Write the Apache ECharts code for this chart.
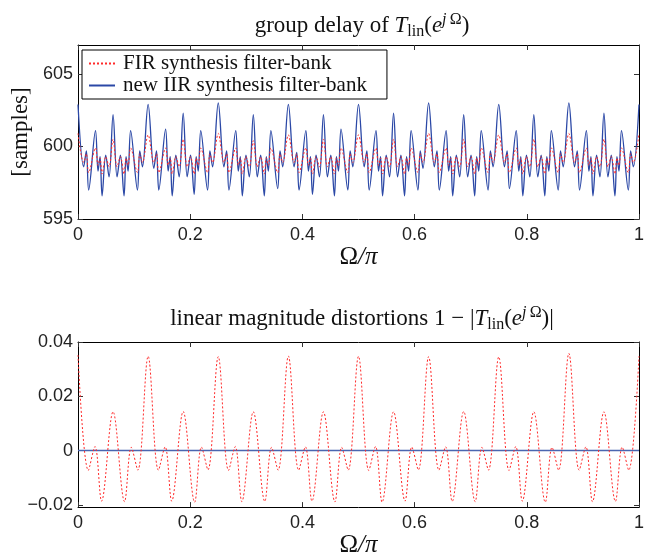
<!DOCTYPE html>
<html><head><meta charset="utf-8">
<script src="https://cdn.jsdelivr.net/npm/echarts@6/dist/echarts.min.js"></script>
<style>html,body{margin:0;padding:0;background:#fff}#c{width:654px;height:559px}</style>
</head><body><div id="c"></div>
<script>
// ---------- data ----------
const xTicks = [0, 0.2, 0.4, 0.6, 0.8, 1];
const gdTicks = [595, 600, 605];
const magTicks = [-0.02, 0, 0.02, 0.04];

// x positions (Omega/pi) of the group-delay extrema
const gdX = [
  0, .0101, .0149, .0190, .0312, .0357, .0393, .0429, .0494, .0554, .0625, .0696, .0756, .0821, .0857, .0893, .0938, .1060, .1101, .1149,
  .125, .1351, .1399, .1440, .1562, .1607, .1643, .1679, .1744, .1804, .1875, .1946, .2006, .2071, .2107, .2143, .2188, .2310, .2351, .2399,
  .25, .2601, .2649, .2690, .2812, .2857, .2893, .2929, .2994, .3054, .3125, .3196, .3256, .3321, .3357, .3393, .3438, .3560, .3601, .3649,
  .375, .3851, .3899, .3940, .4062, .4107, .4143, .4179, .4244, .4304, .4375, .4446, .4506, .4571, .4607, .4643, .4688, .4810, .4851, .4899,
  .5, .5101, .5149, .5190, .5312, .5357, .5393, .5429, .5494, .5554, .5625, .5696, .5756, .5821, .5857, .5893, .5938, .6060, .6101, .6149,
  .625, .6351, .6399, .6440, .6562, .6607, .6643, .6679, .6744, .6804, .6875, .6946, .7006, .7071, .7107, .7143, .7188, .7310, .7351, .7399,
  .75, .7601, .7649, .7690, .7812, .7857, .7893, .7929, .7994, .8054, .8125, .8196, .8256, .8321, .8357, .8393, .8438, .8560, .8601, .8649,
  .875, .8851, .8899, .8940, .9062, .9107, .9143, .9179, .9244, .9304, .9375, .9446, .9506, .9571, .9607, .9643, .9688, .9810, .9851, .9899,
  1
];
// group delay [samples], new IIR synthesis filter-bank
const gdIIR = [
  602.9, 598.6, 599.7, 597.0, 601.1, 598.3, 599.3, 596.6, 599.4, 597.9, 602.2, 597.9, 599.4, 596.6, 599.3, 598.3, 601.1, 597.0, 599.7, 598.6,
  602.9, 598.5, 599.7, 597.0, 601.2, 598.3, 599.3, 596.6, 599.4, 597.9, 602.3, 597.9, 599.4, 596.7, 599.3, 598.3, 601.1, 597.0, 599.7, 598.6,
  603.0, 598.6, 599.7, 597.0, 601.1, 598.3, 599.3, 596.6, 599.4, 597.9, 602.2, 597.9, 599.4, 596.6, 599.3, 598.3, 601.1, 597.1, 599.7, 598.6,
  602.9, 598.6, 599.6, 597.0, 601.1, 598.3, 599.3, 596.7, 599.4, 597.9, 602.2, 597.9, 599.4, 596.6, 599.3, 598.3, 601.2, 597.0, 599.7, 598.6,
  602.9, 598.6, 599.7, 597.0, 601.1, 598.3, 599.3, 596.6, 599.4, 597.9, 602.3, 597.9, 599.4, 596.6, 599.3, 598.3, 601.1, 597.0, 599.7, 598.5,
  603.0, 598.6, 599.7, 597.0, 601.1, 598.3, 599.3, 596.6, 599.4, 597.9, 602.2, 597.9, 599.4, 596.6, 599.3, 598.3, 601.1, 597.0, 599.7, 598.6,
  602.9, 598.6, 599.7, 597.1, 601.1, 598.3, 599.3, 596.6, 599.4, 597.9, 602.2, 597.9, 599.4, 596.6, 599.3, 598.3, 601.1, 597.0, 599.7, 598.6,
  603.0, 598.6, 599.7, 597.0, 601.1, 598.3, 599.3, 596.6, 599.4, 597.9, 602.3, 597.9, 599.4, 596.6, 599.3, 598.3, 601.1, 597.0, 599.7, 598.6,
  602.9
];
// group delay [samples], FIR synthesis filter-bank
const gdFIR = [
  600.9, 598.9, 599.5, 598.2, 599.9, 598.7, 599.2, 598.1, 599.3, 598.6, 600.5, 598.6, 599.3, 598.1, 599.2, 598.7, 599.9, 598.2, 599.5, 598.9,
  600.8, 598.9, 599.5, 598.2, 599.9, 598.7, 599.2, 598.1, 599.3, 598.6, 600.5, 598.6, 599.3, 598.1, 599.2, 598.7, 599.9, 598.2, 599.5, 598.9,
  600.9, 598.9, 599.5, 598.2, 599.9, 598.7, 599.2, 598.1, 599.3, 598.6, 600.4, 598.6, 599.3, 598.1, 599.2, 598.7, 599.9, 598.2, 599.5, 598.9,
  600.8, 598.9, 599.5, 598.2, 599.9, 598.7, 599.2, 598.1, 599.3, 598.6, 600.5, 598.6, 599.3, 598.1, 599.2, 598.7, 599.9, 598.2, 599.5, 598.9,
  600.8, 598.9, 599.5, 598.2, 599.9, 598.7, 599.2, 598.1, 599.3, 598.6, 600.5, 598.6, 599.3, 598.1, 599.2, 598.7, 599.9, 598.2, 599.5, 598.9,
  600.9, 598.9, 599.5, 598.2, 599.9, 598.7, 599.2, 598.1, 599.3, 598.6, 600.5, 598.6, 599.3, 598.1, 599.2, 598.7, 599.9, 598.2, 599.5, 598.9,
  600.8, 598.9, 599.5, 598.2, 599.9, 598.7, 599.2, 598.1, 599.3, 598.6, 600.5, 598.6, 599.3, 598.1, 599.2, 598.7, 599.9, 598.2, 599.5, 598.9,
  600.9, 598.9, 599.5, 598.2, 599.9, 598.7, 599.2, 598.1, 599.3, 598.6, 600.5, 598.6, 599.3, 598.1, 599.2, 598.7, 599.9, 598.2, 599.5, 598.9,
  600.9
];

// linear magnitude distortion extrema
const magX = [
  0, .0184, .0303, .0420, .0625, .0830, .0950, .1066,
  .125, .1434, .1553, .1670, .1875, .2080, .2200, .2316,
  .25, .2684, .2803, .2920, .3125, .3330, .3450, .3566,
  .375, .3934, .4053, .4170, .4375, .4580, .4700, .4816,
  .5, .5184, .5303, .5420, .5625, .5830, .5950, .6066,
  .625, .6434, .6553, .6670, .6875, .7080, .7200, .7316,
  .75, .7684, .7803, .7920, .8125, .8330, .8450, .8566,
  .875, .8934, .9053, .9170, .9375, .9580, .9700, .9816,
  1
];
const magFIR = [
  0.0352, -0.0073, 0.0015, -0.0186, 0.0143, -0.0188, 0.0012, -0.0072,
  0.0347, -0.0072, 0.0014, -0.0186, 0.0144, -0.0190, 0.0013, -0.0071,
  0.0346, -0.0073, 0.0015, -0.0188, 0.0143, -0.0187, 0.0012, -0.0072,
  0.0348, -0.0072, 0.0014, -0.0186, 0.0143, -0.0189, 0.0012, -0.0072,
  0.0347, -0.0073, 0.0015, -0.0190, 0.0143, -0.0186, 0.0013, -0.0071,
  0.0346, -0.0072, 0.0014, -0.0187, 0.0144, -0.0188, 0.0012, -0.0072,
  0.0345, -0.0073, 0.0015, -0.0186, 0.0143, -0.0190, 0.0012, -0.0072,
  0.0358, -0.0072, 0.0014, -0.0188, 0.0143, -0.0187, 0.0013, -0.0072,
  0.0348
];
const magIIRX = [0, 1];
const magIIR = [0, 0];

// ---------- chart ----------
const SERIF = 'Liberation Serif';
const SANS = 'Liberation Sans';
const zip = (xs, ys) => xs.map((x, i) => [x, ys[i]]);

const T = { fontFamily: SERIF, color: '#111', fontWeight: 'normal' };
const titleRich = {
  n: Object.assign({}, T, { fontSize: 23, lineHeight: 28 }),
  i: Object.assign({}, T, { fontSize: 23, fontStyle: 'italic', lineHeight: 28 }),
  sub: Object.assign({}, T, { fontSize: 16, lineHeight: 16, verticalAlign: 'bottom' }),
  supi: Object.assign({}, T, { fontSize: 16, fontStyle: 'italic', lineHeight: 16, verticalAlign: 'top' }),
  sup: Object.assign({}, T, { fontSize: 16, lineHeight: 16, verticalAlign: 'top' })
};
const nameRich = {
  ni: Object.assign({}, T, { fontSize: 25, fontStyle: 'italic', lineHeight: 28 }),
  nu: Object.assign({}, T, { fontSize: 25, lineHeight: 28 })
};

function xAxes(gi) {
  const base = {
    gridIndex: gi, type: 'value', min: 0, max: 1,
    splitLine: { show: false },
    axisLine: { show: true, onZero: false, lineStyle: { color: '#000', width: 1 } },
    axisTick: { show: true, inside: true, length: 5, customValues: xTicks, lineStyle: { color: '#333' } }
  };
  return [
    Object.assign({}, base, {
      position: 'bottom',
      axisLabel: { customValues: xTicks, margin: 7, color: '#222', fontFamily: SANS, fontSize: 18 },
      name: '{nu|Ω}{ni|/π}', nameLocation: 'middle', nameGap: 18,
      nameTextStyle: { rich: nameRich }
    }),
    Object.assign({}, base, { position: 'top', axisLabel: { show: false } })
  ];
}
function yAxes(gi, min, max, ticks, fmt, name) {
  const base = {
    gridIndex: gi, type: 'value', min: min, max: max,
    splitLine: { show: false },
    axisLine: { show: true, onZero: false, lineStyle: { color: '#000', width: 1 } },
    axisTick: { show: true, inside: true, length: 5, customValues: ticks, lineStyle: { color: '#333' } }
  };
  const left = Object.assign({}, base, {
    position: 'left',
    axisLabel: { customValues: ticks, margin: 5, color: '#222', fontFamily: SANS, fontSize: 18, formatter: fmt }
  });
  if (name) {
    left.name = name; left.nameLocation = 'middle'; left.nameGap = 45;
    left.nameTextStyle = { fontFamily: SERIF, fontSize: 23, color: '#111' };
  }
  return [left, Object.assign({}, base, { position: 'right', axisLabel: { show: false } })];
}

const fmtMag = v => (v < 0 ? '\u2212' + Math.abs(v) : String(v));

const option = {
  animation: false,
  backgroundColor: '#fff',
  title: [
    { text: '{n|group delay of }{i|T}{sub|lin}{n|(}{i|e}{supi|j}{sup|\u2009Ω}{n|)}',
      left: 357, top: 7, textAlign: 'center', textStyle: Object.assign({}, T, { rich: titleRich }) },
    { text: '{n|linear magnitude distortions 1 \u2212 |}{i|T}{sub|lin}{n|(}{i|e}{supi|j}{sup|\u2009Ω}{n|)|}',
      left: 357, top: 300, textAlign: 'center', textStyle: Object.assign({}, T, { rich: titleRich }) }
  ],
  grid: [
    { left: 78, top: 45, width: 561, height: 174 },
    { left: 78, top: 342, width: 561, height: 173 }
  ],
  xAxis: [...xAxes(0), ...xAxes(1)],
  yAxis: [...yAxes(0, 595, 607, gdTicks, v => String(v), '[samples]'),
          ...yAxes(1, -0.0208, 0.04, magTicks, fmtMag, null)],
  legend: {
    orient: 'vertical', left: 82, top: 50, selectedMode: false,
    itemWidth: 26, itemHeight: 10, itemGap: 1,
    padding: [3, 20, 3, 6],
    borderColor: '#000', borderWidth: 1, backgroundColor: '#fff',
    itemStyle: { opacity: 0, borderWidth: 0 },
    textStyle: { fontFamily: SERIF, fontSize: 21, color: '#111', padding: [0, 0, 0, 3] },
    data: ['FIR synthesis filter-bank', 'new IIR synthesis filter-bank'],
    z: 10
  },
  series: [
    { name: 'new IIR synthesis filter-bank', type: 'line', xAxisIndex: 0, yAxisIndex: 0,
      data: zip(gdX, gdIIR), symbol: 'none', smooth: 0.35, color: '#2b48a6',
      lineStyle: { color: '#2b48a6', width: 1.3 }, z: 2 },
    { name: 'FIR synthesis filter-bank', type: 'line', xAxisIndex: 0, yAxisIndex: 0,
      data: zip(gdX, gdFIR), symbol: 'none', smooth: 0.35, color: '#ff2a2a',
      lineStyle: { color: '#ff2a2a', width: 1, type: [2, 2] }, z: 3 },
    { name: 'IIR mag', type: 'line', xAxisIndex: 2, yAxisIndex: 2,
      data: zip(magIIRX, magIIR), symbol: 'none', color: '#4a66b0',
      lineStyle: { color: '#4a66b0', width: 1.5 }, z: 2 },
    { name: 'FIR mag', type: 'line', xAxisIndex: 2, yAxisIndex: 2,
      data: zip(magX, magFIR), symbol: 'none', smooth: 0.35, color: '#ff2a2a',
      lineStyle: { color: '#ff2a2a', width: 1, type: [2, 2] }, z: 3 }
  ]
};

const chart = echarts.init(document.getElementById('c'), null, { renderer: 'canvas' });
chart.setOption(option);
</script>
</body></html>
